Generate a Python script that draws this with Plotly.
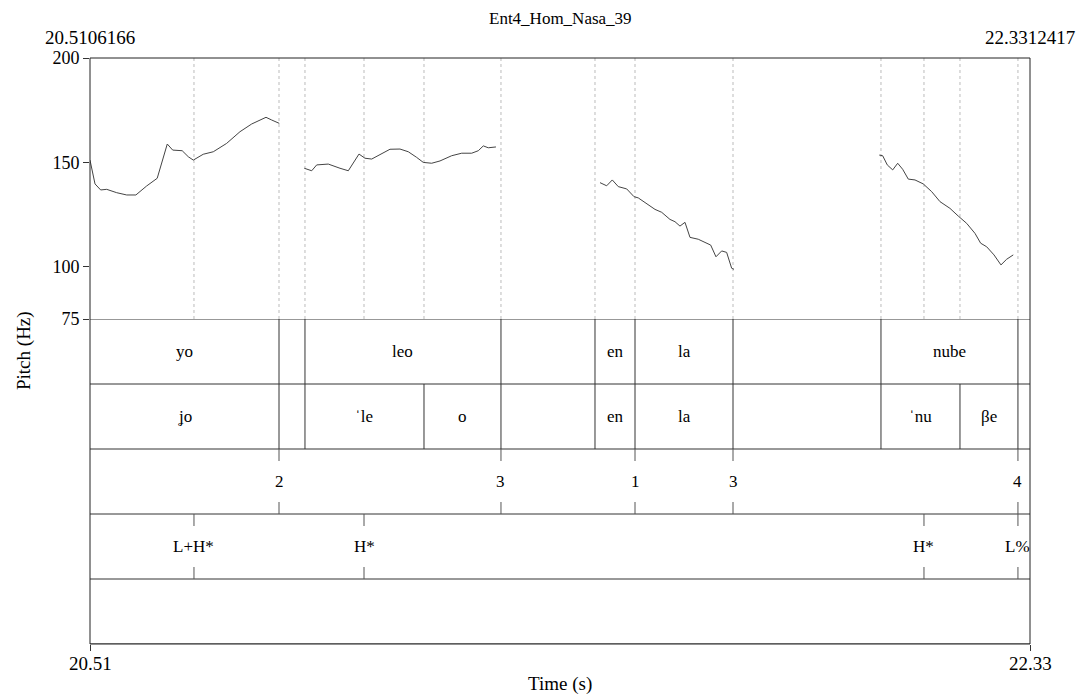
import plotly.graph_objects as go

T_START = 20.5106166
T_END = 22.3312417
TITLE = "Ent4_Hom_Nasa_39"

# ---- pitch contour (Hz) -------------------------------------------------
seg1_t = [20.5106, 20.5203, 20.5313, 20.5430, 20.5623, 20.5817, 20.5995, 20.6203,
          20.6408, 20.6603, 20.6708, 20.6892, 20.7010, 20.7107, 20.7299, 20.7494,
          20.7752, 20.8011, 20.8238, 20.8515, 20.8625, 20.8772]
seg1_f0 = [151.1, 139.7, 136.8, 137.1, 135.5, 134.4, 134.4, 138.7,
           142.4, 158.8, 155.9, 155.6, 152.7, 151.1, 153.9, 155.1,
           159.1, 164.7, 168.4, 171.6, 170.3, 168.7]

seg2_t = [20.9257, 20.9400, 20.9497, 20.9721, 20.9948, 21.0109, 21.0316, 21.0432,
          21.0562, 21.0723, 21.0916, 21.1110, 21.1271, 21.1433, 21.1561, 21.1724,
          21.1885, 21.2111, 21.2305, 21.2499, 21.2627, 21.2724, 21.2820, 21.2969]
seg2_f0 = [147.2, 146.0, 148.8, 149.2, 147.2, 146.0, 154.0, 152.0,
           151.6, 153.9, 156.3, 156.4, 155.1, 152.4, 150.0, 149.6,
           150.7, 153.2, 154.4, 154.4, 155.6, 157.9, 157.0, 157.4]

seg3_t = [21.4984, 21.5113, 21.5222, 21.5338, 21.5501, 21.5642, 21.5725, 21.5888,
          21.6049, 21.6179, 21.6339, 21.6436, 21.6533, 21.6630, 21.6727, 21.6887,
          21.7017, 21.7128, 21.7230, 21.7341, 21.7437, 21.7534, 21.7579]
seg3_f0 = [140.3, 138.8, 141.6, 138.4, 137.3, 133.6, 133.0, 130.1,
           127.5, 126.1, 122.7, 121.6, 119.5, 121.3, 114.1, 113.2,
           111.7, 110.4, 104.8, 107.6, 106.9, 99.3, 98.8]

seg4_t = [22.0393, 22.0459, 22.0548, 22.0653, 22.0750, 22.0846, 22.0955, 22.1085,
          22.1245, 22.1408, 22.1569, 22.1762, 22.1923, 22.2086, 22.2247, 22.2357,
          22.2473, 22.2615, 22.2750, 22.2860, 22.2988]
seg4_f0 = [153.5, 153.2, 148.8, 146.4, 149.6, 146.7, 142.0, 141.6,
           139.7, 136.0, 131.2, 128.0, 124.3, 120.8, 116.0, 111.3,
           109.6, 105.7, 100.9, 103.6, 105.7]

# ---- TextGrid ------------------------------------------------------------
words_bounds = [20.8767, 20.9270, 21.3066, 21.4887, 21.5662, 21.7560, 22.0426, 22.3079]
words_labels = ["yo", "", "leo", "", "en", "la", "", "nube", ""]

syll_bounds = [20.8767, 20.9270, 21.1575, 21.3066, 21.4887, 21.5662, 21.7560,
               22.0426, 22.1956, 22.3079]
syll_labels = ["ʝo", "", "ˈle", "o", "", "en", "la", "", "ˈnu", "βe", ""]

break_times = [20.8767, 21.3066, 21.5662, 21.7560, 22.3079]
break_labels = ["2", "3", "1", "3", "4"]

tone_times = [20.7120, 21.0413, 22.1259, 22.3079]
tone_labels = ["L+H*", "H*", "H*", "L%"]

Y_TICKS = [75, 100, 150, 200]

FONT = "Liberation Serif"
FS = 17
N_TIERS = 5

fig = go.Figure()

# pitch curve as one trace with gaps
xs, ys = [], []
for t, f in [(seg1_t, seg1_f0), (seg2_t, seg2_f0), (seg3_t, seg3_f0), (seg4_t, seg4_f0)]:
    xs += t + [None]
    ys += f + [None]
fig.add_trace(go.Scatter(x=xs, y=ys, mode="lines", line=dict(color="#444444", width=1),
                         connectgaps=False, hoverinfo="skip", showlegend=False))

shapes = []
annotations = []

# dotted guide lines in the pitch panel
all_marks = sorted(set(words_bounds + syll_bounds + break_times + tone_times))
for t in all_marks:
    shapes.append(dict(type="line", xref="x", yref="y", x0=t, x1=t, y0=75, y1=200,
                       line=dict(color="#bbbbbb", width=1, dash="dot"), layer="below"))

# tier horizontal separators (y2: tier k spans [N-k, N-k+1])
for k in range(0, N_TIERS + 1):
    shapes.append(dict(type="line", xref="paper", yref="y2", x0=0, x1=1, y0=k, y1=k,
                       line=dict(color="#333333", width=1)))


def interval_tier(idx, bounds, labels):
    y_lo = N_TIERS - idx
    for b in bounds:
        shapes.append(dict(type="line", xref="x", yref="y2", x0=b, x1=b,
                           y0=y_lo, y1=y_lo + 1, line=dict(color="#333333", width=1)))
    edges = [T_START] + bounds + [T_END]
    for i, lab in enumerate(labels):
        if lab:
            annotations.append(dict(x=(edges[i] + edges[i + 1]) / 2, y=y_lo + 0.5,
                                    xref="x", yref="y2", text=lab, showarrow=False,
                                    font=dict(family=FONT, size=FS, color="black")))


def point_tier(idx, times, labels):
    y_lo = N_TIERS - idx
    tick = 12 / 65
    for t, lab in zip(times, labels):
        shapes.append(dict(type="line", xref="x", yref="y2", x0=t, x1=t,
                           y0=y_lo + 1 - tick, y1=y_lo + 1,
                           line=dict(color="#555555", width=1)))
        shapes.append(dict(type="line", xref="x", yref="y2", x0=t, x1=t,
                           y0=y_lo, y1=y_lo + tick,
                           line=dict(color="#555555", width=1)))
        annotations.append(dict(x=t, y=y_lo + 0.5, xref="x", yref="y2", text=lab,
                                showarrow=False,
                                font=dict(family=FONT, size=FS, color="black")))


interval_tier(1, words_bounds, words_labels)
interval_tier(2, syll_bounds, syll_labels)
point_tier(3, break_times, break_labels)
point_tier(4, tone_times, tone_labels)

# outer frame
shapes.append(dict(type="rect", xref="paper", yref="paper", x0=0, x1=1, y0=0, y1=1,
                   line=dict(color="#222222", width=1)))

PLOT_H = 586.0
LBL = dict(family=FONT, size=FS + 2, color="black")
TICKF = dict(family=FONT, size=FS + 1, color="black")
# top time labels
annotations.append(dict(x=T_START, y=1 + 20 / PLOT_H, xref="x", yref="paper",
                        text=f"{T_START:.7f}", showarrow=False, yanchor="middle", font=LBL))
annotations.append(dict(x=T_END, y=1 + 20 / PLOT_H, xref="x", yref="paper",
                        text=f"{T_END:.7f}", showarrow=False, yanchor="middle", font=LBL))
# bottom time labels
annotations.append(dict(x=T_START, y=-19 / PLOT_H, xref="x", yref="paper",
                        text=f"{T_START:.2f}", showarrow=False, yanchor="middle", font=LBL))
annotations.append(dict(x=T_END, y=-19 / PLOT_H, xref="x", yref="paper",
                        text=f"{T_END:.2f}", showarrow=False, yanchor="middle", font=LBL))
annotations.append(dict(x=0.5, y=-40 / PLOT_H, xref="paper", yref="paper",
                        text="Time (s)", showarrow=False, yanchor="middle", font=LBL))
annotations.append(dict(x=-66 / 940, y=0.5, xref="paper", yref="paper",
                        text="Pitch (Hz)", showarrow=False, textangle=-90,
                        xanchor="center", yanchor="middle", font=LBL))
annotations.append(dict(x=0.5, y=1 + 40 / PLOT_H, xref="paper", yref="paper",
                        text=TITLE, showarrow=False, yanchor="middle",
                        font=dict(family=FONT, size=FS, color="black")))

split = 325 / PLOT_H
fig.update_layout(
    width=1082, height=696,
    margin=dict(l=90, r=52, t=58, b=52),
    paper_bgcolor="white", plot_bgcolor="white",
    showlegend=False,
    font=dict(family=FONT),
    xaxis=dict(range=[T_START, T_END], anchor="y2", showgrid=False, zeroline=False,
               tickvals=[T_START, T_END], ticks="outside", ticklen=6, tickcolor="#333",
               showticklabels=False, showline=False),
    yaxis=dict(domain=[split, 1], range=[75, 200], tickvals=Y_TICKS, ticks="outside",
               ticklen=6, tickcolor="#333", showgrid=False, zeroline=False,
               tickfont=TICKF, showline=False),
    yaxis2=dict(domain=[0, split], range=[0, N_TIERS], showgrid=False, zeroline=False,
                showticklabels=False, ticks=""),
    shapes=shapes,
    annotations=annotations,
)

fig.write_html("out.html")
